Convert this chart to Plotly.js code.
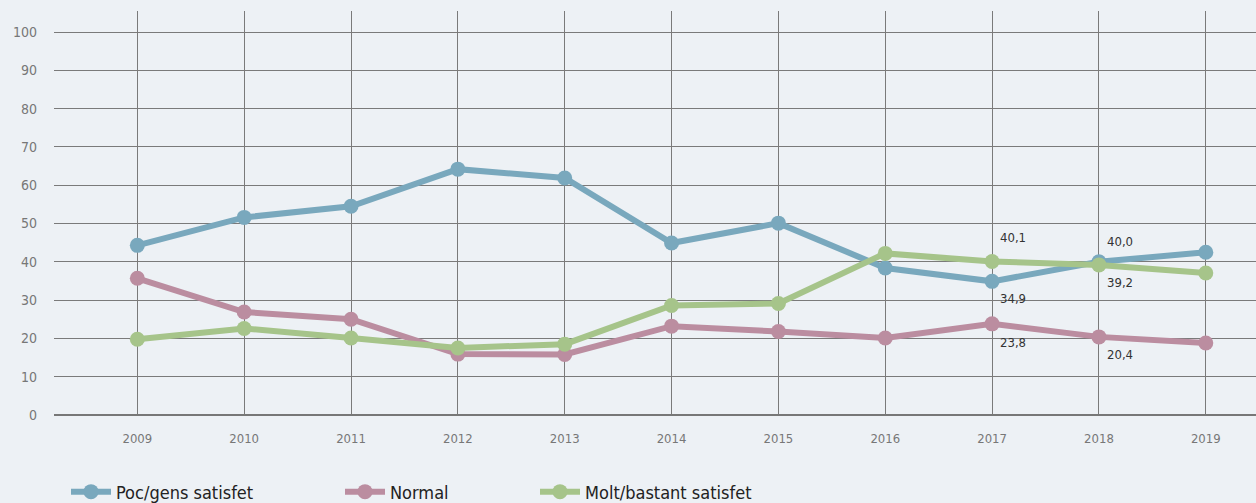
<!DOCTYPE html>
<html>
<head>
<meta charset="utf-8">
<script src="https://cdn.plot.ly/plotly-3.0.1.min.js"></script>
<style>html,body{margin:0;padding:0;background:#edf1f5;}#chart{width:1256px;height:503px;}</style>
</head>
<body>
<div id="chart"></div>
<script>
const years = [2009, 2010, 2011, 2012, 2013, 2014, 2015, 2016, 2017, 2018, 2019];
const pocGens = [44.3, 51.6, 54.5, 64.2, 61.9, 44.9, 50.1, 38.4, 34.9, 40.0, 42.5];
const normal = [35.7, 26.9, 25.0, 15.9, 15.8, 23.2, 21.8, 20.1, 23.8, 20.4, 18.8];
const moltBastant = [19.8, 22.6, 20.1, 17.5, 18.5, 28.6, 29.1, 42.2, 40.1, 39.2, 37.1];
const seriesNames = ["Poc/gens satisfet", "Normal", "Molt/bastant satisfet"];
const labelYears = [2017, 2018];

const colors = ["#79a8bd", "#bb8da0", "#a6c48a"];
const FONT = "'Liberation Sans Narrow', 'DejaVu Sans Condensed', 'Arial Narrow', sans-serif";
const seriesValues = [pocGens, normal, moltBastant];
const legendIds = ["legend", "legend2", "legend3"];

const traces = seriesValues.map((vals, i) => ({
  x: years, y: vals, name: seriesNames[i], type: "scatter", mode: "lines+markers",
  line: {color: colors[i], width: 6},
  marker: {color: colors[i], size: 15},
  legend: legendIds[i], cliponaxis: false
}));

function fmt(v){ return v.toFixed(1).replace(".", ","); }
const annotations = [];
labelYears.forEach(yr => {
  const idx = years.indexOf(yr);
  const items = yr === 2017
    ? [[pocGens[idx], 17], [normal[idx], 19], [moltBastant[idx], -24]]
    : [[pocGens[idx], -20], [moltBastant[idx], 18], [normal[idx], 18]];
  items.forEach(([yv, dy]) => {
    annotations.push({
      x: yr, y: yv, xref: "x", yref: "y", text: fmt(yv), showarrow: false,
      xanchor: "left", yanchor: "middle", xshift: 6, yshift: -dy,
      font: {family: FONT, size: 13, color: "#333"}
    });
  });
});

const legendBase = {
  orientation: "h", yref: "container", y: 0.022, yanchor: "middle",
  xref: "container", xanchor: "left",
  bgcolor: "rgba(0,0,0,0)", itemwidth: 40,
  font: {family: FONT, size: 18, color: "#222"}
};

const layout = {
  width: 1256, height: 503,
  paper_bgcolor: "#edf1f5", plot_bgcolor: "#edf1f5",
  margin: {l: 54, r: 0, t: 11, b: 88},
  showlegend: true,
  legend: Object.assign({}, legendBase, {x: 66 / 1256}),
  legend2: Object.assign({}, legendBase, {x: 340 / 1256}),
  legend3: Object.assign({}, legendBase, {x: 535 / 1256}),
  xaxis: {
    range: [2008.22, 2019.47], tickvals: years, ticktext: years.map(String),
    showgrid: true, gridcolor: "#7a7a7a", gridwidth: 1,
    zeroline: false, showline: false, ticks: "",
    ticklabelstandoff: 14,
    tickfont: {family: FONT, size: 13, color: "#777"}
  },
  yaxis: {
    range: [0, 105.5], tickvals: [0,10,20,30,40,50,60,70,80,90,100],
    showgrid: true, gridcolor: "#7a7a7a", gridwidth: 1,
    zeroline: true, zerolinecolor: "#777777", zerolinewidth: 2.5,
    showline: false, ticks: "", ticklabelstandoff: 16,
    tickfont: {family: FONT, size: 14, color: "#777"}
  },
  annotations: annotations,
  font: {family: FONT}
};

Plotly.newPlot("chart", traces, layout, {displayModeBar: false, staticPlot: true});
</script>
</body>
</html>
